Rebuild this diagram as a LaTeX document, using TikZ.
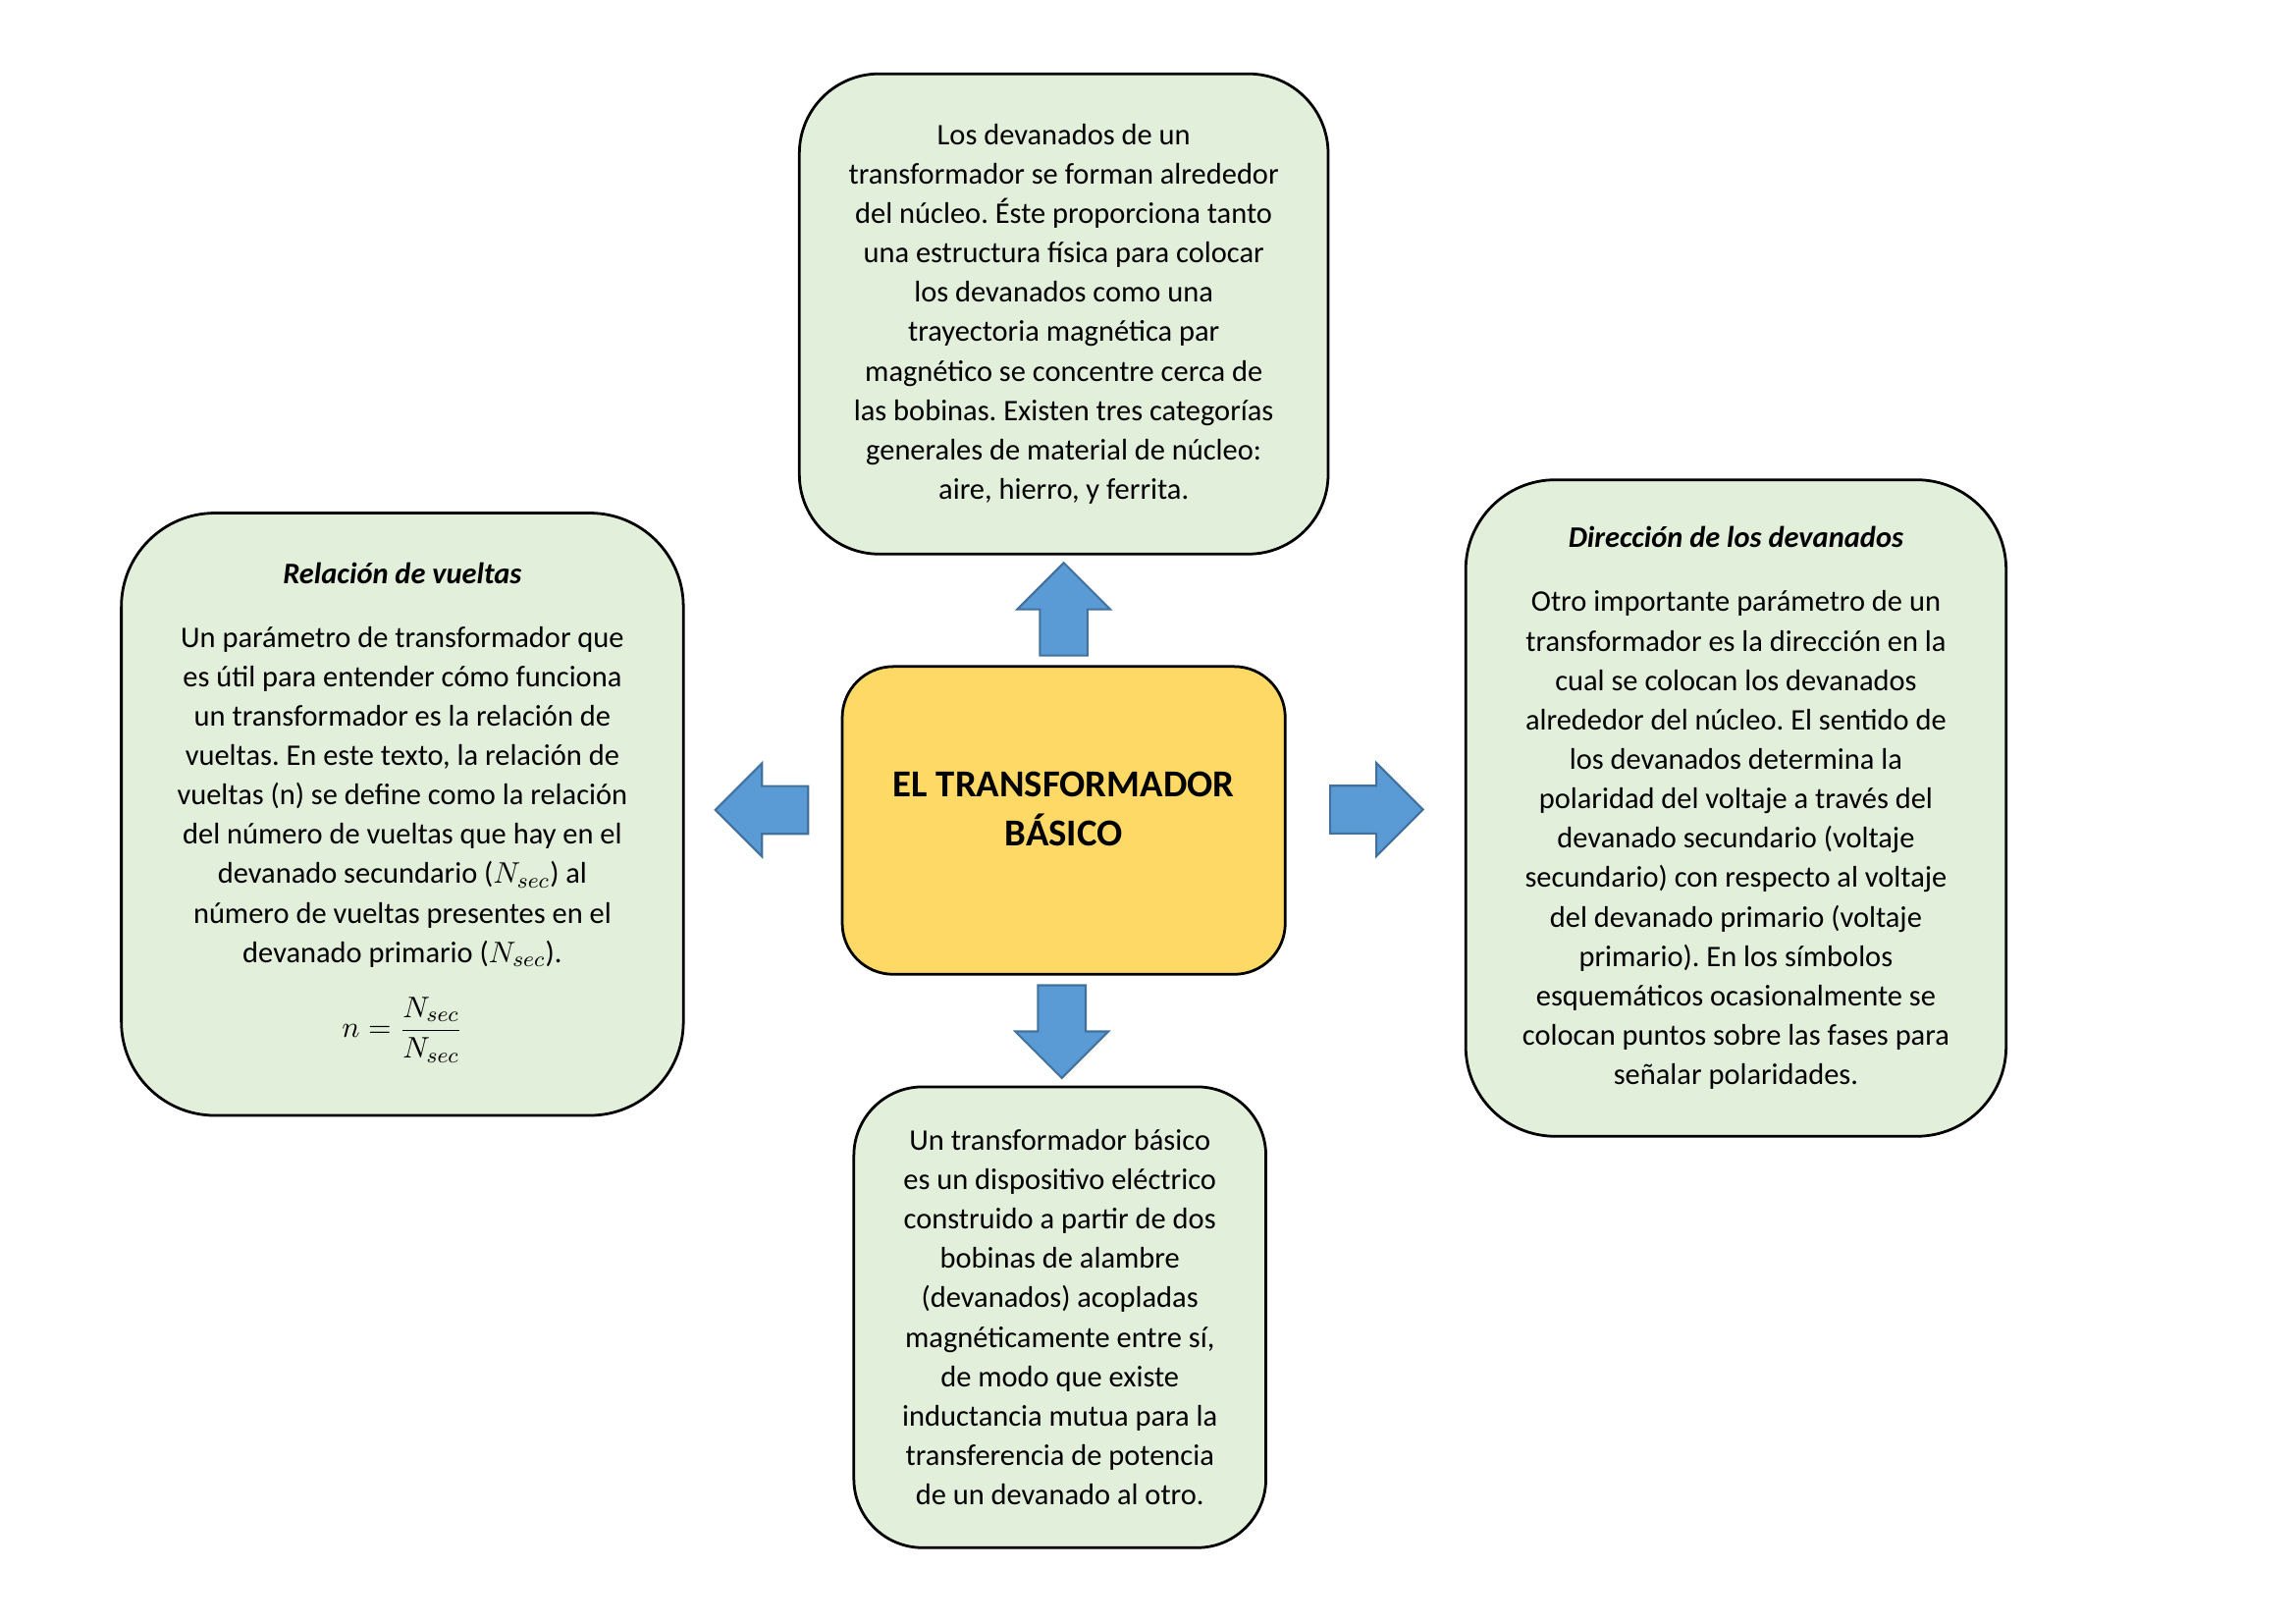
\documentclass[tikz,border=0pt]{standalone}
\usepackage{fontspec}
\setmainfont{Carlito}
\usepackage{tikz}
\usepackage{xcolor}
\usetikzlibrary{shapes.arrows,positioning,calc}
\frenchspacing
\definecolor{InfoBoxBackground}{HTML}{E2EFDA}
\definecolor{CoreBoxBackground}{HTML}{FFD966}
\definecolor{BlockArrowFill}{HTML}{5B9BD5}
\definecolor{BlockArrowBorder}{HTML}{41719C}
\tikzstyle{InfoBox} =[draw,line width=1pt,fill=InfoBoxBackground,align=center,inner sep=0pt,font=\fontsize{11}{14.5}\selectfont]
\tikzstyle{CoreBox} =[draw,line width=1pt,fill=CoreBoxBackground,align=center,rounded corners=0.66cm,minimum width=5.73cm,minimum height=3.98cm,text depth=0.3cm,font=\fontsize{14}{18.4}\selectfont\bfseries]
\tikzstyle{BlockArrow} =[draw=BlockArrowBorder,fill=BlockArrowFill,line width=0.75pt,single arrow,single arrow head extend=0.295cm,inner sep=0.295cm,minimum height=1.2cm]
\newcommand{\BoxTitle}[1]{\textbf{\textit{#1}}\\[9pt]}

\begin{document}
\begin{tikzpicture}
    \useasboundingbox (0,0) rectangle (29.7,21);
    \node[CoreBox](Transformer-Core) at (13.76,10.39){EL TRANSFORMADOR\\ BÁSICO};

    \node[InfoBox,rounded corners=1.03cm,minimum width=6.84cm,minimum height=6.21cm,above=1.42cm of Transformer-Core](Core-Winding-Box){Los devanados de un\\ transformador se forman alrededor\\ del núcleo. Éste proporciona tanto\\ una estructura física para colocar\\ los devanados como una\\ trayectoria magnética par\\ magnético se concentre cerca de\\ las bobinas. Existen tres categorías\\ generales de material de núcleo:\\ aire, hierro, y ferrita.};

    \node[InfoBox,rounded corners=1.21cm,minimum width=7.27cm,minimum height=7.79cm,left=2.02cm of Transformer-Core,yshift=0.08cm](Turns-Ratio-Box){\BoxTitle{Relación de vueltas}Un parámetro de transformador que\\ es útil para entender cómo funciona\\ un transformador es la relación de\\ vueltas. En este texto, la relación de\\ vueltas (n) se define como la relación\\ del número de vueltas que hay en el\\ devanado secundario ($N_{sec}$) al\\ número de vueltas presentes en el\\ devanado primario ($N_{sec}$).\\[10pt] $\displaystyle n=\frac{N_{sec}}{N_{sec}}$\\[-4pt]};

    \node[InfoBox,rounded corners=1.16cm,minimum width=6.99cm,minimum height=8.49cm,right=2.30cm of Transformer-Core,yshift=0.16cm](Winding-Direction-Box){\BoxTitle{Dirección de los devanados}Otro importante parámetro de un\\ transformador es la dirección en la\\ cual se colocan los devanados\\ alrededor del núcleo. El sentido de\\ los devanados determina la\\ polaridad del voltaje a través del\\ devanado secundario (voltaje\\ secundario) con respecto al voltaje\\ del devanado primario (voltaje\\ primario). En los símbolos\\ esquemáticos ocasionalmente se\\ colocan puntos sobre las fases para\\ señalar polaridades.};

    \node[InfoBox,rounded corners=0.89cm,minimum width=5.33cm,minimum height=5.96cm,below=1.42cm of Transformer-Core,xshift=-0.05cm](Basic-Transformer-Box){Un transformador básico\\ es un dispositivo eléctrico\\ construido a partir de dos\\ bobinas de alambre\\ (devanados) acopladas\\ magnéticamente entre sí,\\ de modo que existe\\ inductancia mutua para la\\ transferencia de potencia\\ de un devanado al otro.};

    % block arrows half way between the core box and each info box
    \node[BlockArrow,shape border rotate=90,yshift=-0.14cm](Arrow-Up) at ($(Transformer-Core.north)!0.5!(Core-Winding-Box.south)$){};
    \node[BlockArrow,shape border rotate=180,xshift=0.14cm,yshift=0.095cm](Arrow-Left) at ($(Transformer-Core.west)!0.5!(Turns-Ratio-Box.east)$){};
    \node[BlockArrow,xshift=-0.14cm,yshift=0.06cm](Arrow-Right) at ($(Transformer-Core.east)!0.5!(Winding-Direction-Box.west)$){};
    \node[BlockArrow,shape border rotate=270,yshift=0.14cm](Arrow-Down) at ($(Transformer-Core.south)!0.5!(Basic-Transformer-Box.north)$){};
\end{tikzpicture}
\end{document}
